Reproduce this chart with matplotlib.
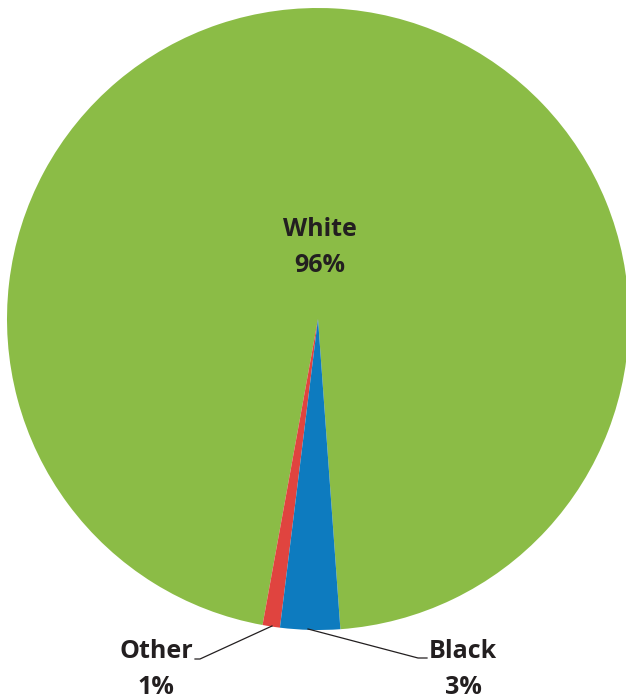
import matplotlib.pyplot as plt

labels = ['White', 'Other', 'Black']
shares = [96.0, 0.9, 3.1]
colors = ['#8bbc46', '#e0443f', '#0d7bbf']

W, H = 626, 698
fig = plt.figure(figsize=(W / 100, H / 100), dpi=100)
ax = fig.add_axes([0, 0, 1, 1])
ax.set_xlim(0, W)
ax.set_ylim(0, H)
ax.axis('off')

cx, cy, r = 318, H - 319, 311
black_deg = shares[2] / 100 * 360
start = 270 + black_deg * 0.37

wedges, _ = ax.pie(shares, colors=colors, startangle=start, counterclock=True,
                   center=(cx, cy), radius=r, frame=True,
                   wedgeprops=dict(linewidth=0))
ax.set_xlim(0, W)
ax.set_ylim(0, H)
ax.set_aspect('equal')
ax.axis('off')

txt = dict(fontfamily='Open Sans', fontweight='bold', fontsize=18,
           color='#231f20', ha='center', va='center')

ax.text(320, H - 229, labels[0], **txt)
ax.text(320, H - 266, f'{shares[0]:.0f}%', **txt)

ax.text(156, H - 651, labels[1], **txt)
ax.text(156, H - 688, f'{shares[1]:.0f}%', **txt)
ax.plot([195, 200, 272], [H - 659, H - 659, H - 626], color='#231f20', lw=0.9)

ax.text(463, H - 651, labels[2], **txt)
ax.text(463, H - 688, f'{shares[2]:.0f}%', **txt)
ax.plot([308, 418, 427], [H - 629, H - 658, H - 658], color='#231f20', lw=0.9)

fig.savefig('out.png', dpi=100)
